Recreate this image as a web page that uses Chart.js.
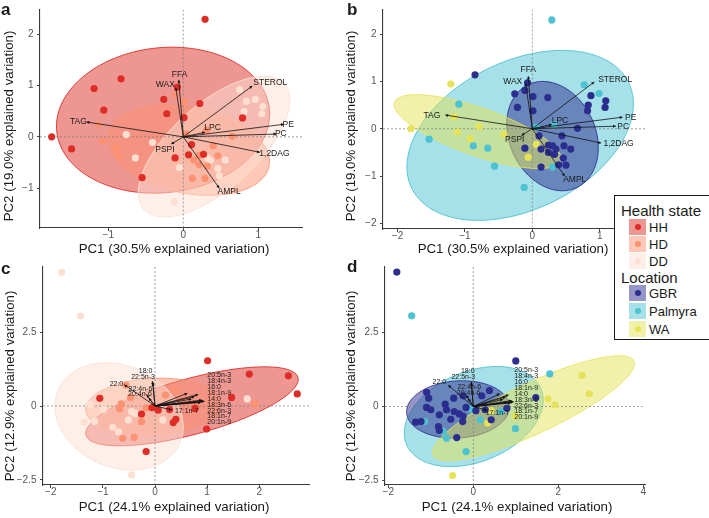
<!DOCTYPE html>
<html><head><meta charset="utf-8">
<script src="https://cdn.jsdelivr.net/npm/chart.js@4.4.1/dist/chart.umd.min.js"></script>
<style>
html,body{margin:0;padding:0;background:#fff}
body{width:709px;height:518px;position:relative;overflow:hidden;font-family:"Liberation Sans",Arial,Helvetica,sans-serif;color:#1a1a1a}
canvas{position:absolute;left:0;top:0}
.t{position:absolute;white-space:nowrap;line-height:1}
.xt{font-size:13.3px;transform:translate(-50%,-50%)}
.yt{font-size:13.3px;transform:translate(-50%,-50%) rotate(-90deg)}
.let{font-size:17px;font-weight:bold;line-height:17px}
#legbox{position:absolute;left:614px;top:195px;width:100px;height:145px;box-sizing:border-box;border:1.3px solid #1a1a1a;background:#fff}
.lgt{font-size:15px;transform:translateY(-50%)}
.lgi{font-size:13px;transform:translateY(-50%)}
.patch{position:absolute;width:17px;height:16px}
.dot{position:absolute;width:6px;height:6px;border-radius:50%;left:5.5px;top:5px}
</style></head>
<body>
<canvas id="pa" width="709" height="518"></canvas>
<canvas id="pb" width="709" height="518"></canvas>
<canvas id="pc" width="709" height="518"></canvas>
<canvas id="pd" width="709" height="518"></canvas>

<div class="t let" style="left:1px;top:1px">a</div>
<div class="t let" style="left:347px;top:1px">b</div>
<div class="t let" style="left:1px;top:260px">c</div>
<div class="t let" style="left:347px;top:258px">d</div>

<div class="t xt" style="left:174px;top:249px">PC1 (30.5% explained variation)</div>
<div class="t xt" style="left:513px;top:249px">PC1 (30.5% explained variation)</div>
<div class="t xt" style="left:174px;top:507px">PC1 (24.1% explained variation)</div>
<div class="t xt" style="left:517px;top:507px">PC1 (24.1% explained variation)</div>
<div class="t yt" style="left:9px;top:126px">PC2 (19.0% explained variation)</div>
<div class="t yt" style="left:351px;top:126px">PC2 (19.0% explained variation)</div>
<div class="t yt" style="left:10px;top:386px">PC2 (12.9% explained variation)</div>
<div class="t yt" style="left:351px;top:386px">PC2 (12.9% explained variation)</div>

<div id="legbox"></div>
<div id="legend"></div>

<script>
const FONT = '"Liberation Sans", Arial, Helvetica, sans-serif';

// ---------- categories ----------
const HEALTH = ['HH', 'HD', 'DD'];
const LOCATION = ['GBR', 'Palmyra', 'WA'];
const HEALTH_COLORS = ['#de2d26', '#fc9272', '#fee0d2'];
const LOCATION_COLORS = ['#2b2d8f', '#4dc2d1', '#e6e35a'];

// ---------- axis ranges and ticks ----------
const A_X_RANGE = [-1.911, 1.583], A_Y_RANGE = [-1.775, 2.481];
const B_X_RANGE = [-2.215, 1.702], B_Y_RANGE = [-2.118, 2.52];
const C_X_RANGE = [-2.15, 2.956],  C_Y_RANGE = [-2.67, 4.70];
const D_X_RANGE = [-2.078, 4.04],  D_Y_RANGE = [-2.65, 4.71];
const A_X_TICKS = [-1, 0, 1],         A_Y_TICKS = [-1, 0, 1, 2];
const B_X_TICKS = [-2, -1, 0, 1],     B_Y_TICKS = [-2, -1, 0, 1, 2];
const C_X_TICKS = [-2, -1, 0, 1, 2],  C_Y_TICKS = [-2.5, 0, 2.5];
const D_X_TICKS = [-2, 0, 2, 4],      D_Y_TICKS = [-2.5, 0, 2.5];

// ---------- panel a: lipid classes by health state (PC1, PC2) ----------
const A_HH = [[0.29,2.29],[-1.755,0.0],[-1.49,-0.235],[-1.19,0.94],[-0.83,1.13],[-1.06,0.52],[-0.08,0.97],[-0.26,0.73],[-0.22,0.45],[0.01,0.375],[0.22,0.65],[0.79,0.37],[0.11,-0.15],[-0.11,-0.41],[0.07,-0.35],[0.27,-0.34],[-0.55,-0.795]];
const A_HD = [[-0.10,0.83],[0.01,0.69],[-1.13,0.24],[-1.08,-0.08],[-0.90,-0.21],[-0.86,-0.37],[0.31,0.13],[0.65,0.01],[0.40,-0.17],[0.46,-0.37],[0.21,-0.36],[0.14,-0.45],[0.21,-0.54],[0.32,-0.57],[0.12,-0.81],[0.29,-0.81],[0.04,0.06]];
const A_DD = [[0.75,0.92],[0.84,0.69],[0.96,0.73],[1.06,0.59],[0.81,0.49],[1.05,0.45],[-0.76,0.045],[-0.64,-0.41],[-0.41,-0.11],[0.32,-0.41],[-0.05,-0.60],[0.46,-0.62],[0.48,-0.76],[0.56,-0.45],[0.36,-0.46],[-0.12,-1.26]];

// ---------- panel b: lipid classes by location ----------
const B_GBR = [[-0.85,1.14],[-0.07,0.97],[-0.11,0.81],[-0.26,0.74],[0.01,0.68],[0.23,0.66],[-0.22,0.45],[0.01,0.38],[0.87,0.70],[0.83,0.50],[0.82,0.38],[1.09,0.59],[1.08,0.45],[0.67,0.01],[0.10,-0.15],[0.44,-0.15],[-0.11,-0.41],[0.13,-0.43],[0.24,-0.345],[0.30,-0.36],[0.35,-0.43],[0.47,-0.36],[0.57,-0.43],[0.24,-0.50],[0.33,-0.54],[0.46,-0.62],[0.39,-0.76],[0.50,-0.77],[0.13,-0.81]];
const B_PAL = [[0.29,2.30],[0.77,0.93],[0.99,0.745],[-1.09,0.52],[-1.53,-0.22],[-0.875,-0.36],[-0.66,-0.41],[-0.56,-0.79],[-0.12,-1.24],[0.30,-0.81],[0.06,0.03],[0.32,0.09]];
const B_WA = [[-1.21,0.945],[-1.80,0.0],[-1.16,0.255],[-1.11,-0.07],[-0.79,0.05],[-0.92,-0.21],[-0.42,-0.12],[0.06,-0.33],[-0.06,-0.60]];

// ---------- panel c: fatty acids by health state ----------
const C_HH = [[1.01,1.53],[1.81,1.08],[2.56,1.02],[2.73,0.41],[1.47,0.29],[0.77,-0.08],[0.99,-0.78],[0.40,-0.45],[0.35,-0.56],[-0.06,-0.06],[0.06,-0.14],[-0.26,-0.27],[-1.06,0.26],[-0.17,-1.54],[0.28,-0.12]];
const C_HD = [[-0.56,0.71],[0.20,0.37],[1.92,0.07],[-0.65,0.07],[-0.68,-0.10],[-0.47,0.29],[-0.17,-0.06],[-0.26,-0.53],[-0.62,-1.09],[-0.40,-1.06],[0.38,0.55]];
const C_DD = [[-1.79,4.52],[-1.43,3.04],[1.77,0.24],[-0.45,-2.33],[-0.99,-0.11],[-1.16,-0.52],[-1.36,-0.54],[-0.45,-0.19],[-0.38,-0.25],[-0.51,-0.47],[-0.81,-0.72],[-0.70,-0.87],[0.15,-0.47],[-1.25,0.05]];

// ---------- panel d: fatty acids by location ----------
const D_GBR = [[-1.80,4.54],[1.00,1.54],[1.47,0.30],[0.38,0.54],[0.20,0.36],[-0.24,0.36],[-1.10,0.48],[-1.05,0.28],[-1.10,-0.03],[-1.00,-0.11],[-0.66,0.08],[-0.46,0.28],[-0.63,-0.11],[-0.45,-0.17],[-0.33,-0.25],[-0.24,-0.32],[-0.17,-0.03],[-0.80,-0.28],[-1.36,-0.53],[-1.23,-0.51],[-0.53,-0.43],[-0.25,-0.51],[-0.82,-0.68],[-0.80,-0.81],[-0.39,-1.05],[0.06,-0.14],[0.28,-0.11],[0.42,-0.45],[0.79,-0.06]];
const D_PAL = [[-1.45,3.06],[1.80,1.10],[0.99,-0.75],[-0.17,-1.52],[0.16,-0.45],[-0.05,-0.09],[-0.63,-1.07],[-0.71,-0.84],[-1.14,-0.51],[0.65,-0.17]];
const D_WA = [[-0.49,-2.33],[2.56,1.05],[2.73,0.43],[1.76,0.26],[1.92,0.06],[0.34,-0.56],[0.42,-0.14],[0.99,-0.32]];

// ---------- confidence ellipses: [centreX, centreY, semiAxisA, semiAxisB, angleDeg] ----------
const A_ELL_HH = [-0.27, 0.325, 1.48, 1.36, 45];
const A_ELL_HD = [0.07, -0.26, 1.131, 0.812, -25.4];
const A_ELL_DD = [0.41, -0.19, 1.567, 0.666, 57.6];
const B_ELL_GBR = [0.30, -0.155, 1.168, 0.656, -79.5];
const B_ELL_PAL = [-0.18, -0.14, 2.039, 1.374, 50.1];
const B_ELL_WA = [-0.81, -0.06, 1.386, 0.474, -28.4];
const C_ELL_HH = [0.71, -0.01, 2.275, 0.875, 28.7];
const C_ELL_HD = [-0.03, -0.02, 1.31, 0.95, 9.3];
const C_ELL_DD = [-0.69, -0.35, 1.84, 1.19, -76.9];
const D_ELL_GBR = [-0.36, -0.10, 1.217, 0.961, 10];
const D_ELL_PAL = [0.01, -0.34, 1.918, 1.36, 47.9];
const D_ELL_WA = [1.415, -0.055, 2.857, 0.778, 35.3];

// ---------- loadings (arrows) ----------
const LIPID_VARS = ['FFA','WAX','STEROL','PE','PC','1,2DAG','AMPL','LPC','PSPI','TAG'];
const LIPID_TIP_X = [-0.06,-0.10,0.92,1.34,1.24,1.02,0.48,0.29,-0.16,-1.29];
const LIPID_TIP_Y = [1.11,0.96,0.99,0.245,0.055,-0.30,-1.0,0.09,-0.14,0.29];
const A_LAB_X = [-0.05,-0.24,1.16,1.40,1.30,1.215,0.61,0.39,-0.245,-1.40];
const A_LAB_Y = [1.21,1.01,1.065,0.245,0.055,-0.325,-1.065,0.175,-0.24,0.29];
const B_LAB_X = [-0.06,-0.29,1.23,1.46,1.35,1.28,0.63,0.41,-0.26,-1.49];
const B_LAB_Y = [1.24,0.99,1.04,0.24,0.05,-0.31,-1.07,0.17,-0.24,0.28];
const LIPID_ALIGN = LIPID_VARS.map(() => 'center');

const FA_VARS = ['18:0','22:5n-3','22:0','22:4n-6','20:4n-6','20:5n-3','18:4n-3','16:0','18:1n-9','14:0','18:3n-6','22:6n-3','18:1n-7','20:1n-9','17:1n-7'];
const FA_TIP_X = [-0.05,-0.04,-0.59,-0.16,-0.12,0.62,0.83,0.76,0.70,0.90,0.93,0.80,0.88,0.95,0.32];
const FA_TIP_Y = [0.84,0.78,0.72,0.38,0.27,0.43,0.39,0.32,0.24,0.20,0.17,0.14,0.12,0.16,-0.13];
const C_LAB_X = [-0.18,-0.23,-0.74,-0.28,-0.29,1.005,1.005,1.005,1.005,1.005,1.005,1.005,1.005,1.005,0.61];
const C_LAB_Y = [1.19,0.97,0.73,0.56,0.39,1.05,0.86,0.64,0.43,0.225,0.03,-0.16,-0.34,-0.53,-0.17];
const D_LAB_X = [-0.13,-0.235,-0.80,-0.095,-0.11,0.965,0.965,0.965,0.965,0.965,0.965,0.965,0.965,0.965,0.57];
const D_LAB_Y = [1.20,0.98,0.81,0.64,0.47,1.22,1.04,0.81,0.62,0.42,0.225,0.02,-0.17,-0.37,-0.225];
const FA_ALIGN = ['center','center','center','center','center','left','left','left','left','left','left','left','left','left','center'];

// ---------- helpers ----------
function rgba(hex, a) {
  const n = parseInt(hex.slice(1), 16);
  return `rgba(${(n>>16)&255},${(n>>8)&255},${n&255},${a})`;
}
function fmt(v) { return (v < 0 ? '\u2212' : '') + Math.abs(v); }

function biplot(cfg) {
  return {
    id: 'biplot_' + cfg.id,
    beforeDatasetsDraw(chart) {
      const {ctx, chartArea: ar, scales: {x, y}} = chart;
      ctx.save();
      ctx.beginPath(); ctx.rect(ar.left, ar.top, ar.right - ar.left, ar.bottom - ar.top); ctx.clip();
      cfg.ellipses.forEach(([e, col]) => {
        const [cx, cy, a, b, deg] = e, th = deg * Math.PI / 180;
        ctx.beginPath();
        for (let i = 0; i <= 180; i++) {
          const t = i / 180 * 2 * Math.PI, dx = a * Math.cos(t), dy = b * Math.sin(t);
          const px = x.getPixelForValue(cx + dx * Math.cos(th) - dy * Math.sin(th));
          const py = y.getPixelForValue(cy + dx * Math.sin(th) + dy * Math.cos(th));
          i ? ctx.lineTo(px, py) : ctx.moveTo(px, py);
        }
        ctx.closePath();
        ctx.fillStyle = rgba(col, 0.5); ctx.fill();
        ctx.strokeStyle = col; ctx.lineWidth = 0.9; ctx.stroke();
      });
      const x0 = x.getPixelForValue(0), y0 = y.getPixelForValue(0);
      ctx.setLineDash([2, 2]); ctx.strokeStyle = '#7a7a7a'; ctx.lineWidth = 0.7;
      ctx.beginPath();
      ctx.moveTo(x0, ar.top); ctx.lineTo(x0, ar.bottom);
      ctx.moveTo(ar.left, y0); ctx.lineTo(ar.right, y0);
      ctx.stroke();
      ctx.restore();
    },
    afterDatasetsDraw(chart) {
      const {ctx, scales: {x, y}} = chart;
      const ox = x.getPixelForValue(0), oy = y.getPixelForValue(0);
      ctx.save();
      ctx.strokeStyle = '#111'; ctx.fillStyle = '#111'; ctx.lineWidth = 0.8;
      cfg.vars.forEach((v, i) => {
        const tx = x.getPixelForValue(cfg.tipX[i]), ty = y.getPixelForValue(cfg.tipY[i]);
        ctx.beginPath(); ctx.moveTo(ox, oy); ctx.lineTo(tx, ty); ctx.stroke();
        const ang = Math.atan2(ty - oy, tx - ox), h = 3.2;
        ctx.beginPath();
        ctx.moveTo(tx, ty);
        ctx.lineTo(tx - h * Math.cos(ang - 0.5), ty - h * Math.sin(ang - 0.5));
        ctx.lineTo(tx - h * Math.cos(ang + 0.5), ty - h * Math.sin(ang + 0.5));
        ctx.closePath(); ctx.fill();
      });
      ctx.font = cfg.labFont + 'px ' + FONT;
      ctx.textBaseline = 'middle';
      ctx.fillStyle = '#1a1a1a';
      cfg.vars.forEach((v, i) => {
        ctx.textAlign = cfg.align[i];
        ctx.fillText(v, x.getPixelForValue(cfg.labX[i]), y.getPixelForValue(cfg.labY[i]));
      });
      ctx.restore();
    }
  };
}

function axis(range, ticks, dir) {
  const isX = dir === 'x';
  return {
    type: 'linear', position: isX ? 'bottom' : 'left', min: range[0], max: range[1],
    afterBuildTicks: s => { s.ticks = ticks.map(v => ({value: v})); },
    afterFit: s => { if (isX) s.height = 20; else s.width = 30; },
    grid: {display: true, drawOnChartArea: false, drawTicks: true, tickLength: 3, tickColor: '#444', color: '#444', lineWidth: 1},
    border: {display: true, color: '#3a3a3a', width: 1.1},
    ticks: {autoSkip: false, maxRotation: 0, padding: isX ? -2 : 3.5, color: '#555',
            font: {family: FONT, size: 10}, callback: v => fmt(v)}
  };
}

function makeChart(cfg) {
  const [L, T, R, B] = cfg.area;
  const datasets = cfg.groups.map((pts, i) => ({
    label: cfg.names[i], data: pts.map(([px, py]) => ({x: px, y: py})),
    backgroundColor: cfg.colors[i], borderColor: cfg.colors[i],
    pointRadius: 3.6, pointHoverRadius: 3.6, pointBorderWidth: 0
  }));
  return new Chart(document.getElementById(cfg.id), {
    type: 'scatter',
    data: {datasets},
    options: {
      responsive: false, animation: false, devicePixelRatio: 1, events: [],
      layout: {padding: {left: L - 30, top: T, right: 709 - R, bottom: 518 - B - 20}},
      plugins: {legend: {display: false}, tooltip: {enabled: false}},
      scales: {x: axis(cfg.xr, cfg.xt, 'x'), y: axis(cfg.yr, cfg.yt, 'y')}
    },
    plugins: [biplot(cfg)]
  });
}

makeChart({id: 'pa', area: [40, 5, 302, 228], xr: A_X_RANGE, yr: A_Y_RANGE, xt: A_X_TICKS, yt: A_Y_TICKS,
  names: HEALTH, colors: HEALTH_COLORS, groups: [A_HH, A_HD, A_DD],
  ellipses: [[A_ELL_HH, HEALTH_COLORS[0]], [A_ELL_HD, HEALTH_COLORS[1]], [A_ELL_DD, HEALTH_COLORS[2]]],
  vars: LIPID_VARS, tipX: LIPID_TIP_X, tipY: LIPID_TIP_Y, labX: A_LAB_X, labY: A_LAB_Y, align: LIPID_ALIGN, labFont: 8.5});
makeChart({id: 'pb', area: [383, 5, 647, 229], xr: B_X_RANGE, yr: B_Y_RANGE, xt: B_X_TICKS, yt: B_Y_TICKS,
  names: LOCATION, colors: LOCATION_COLORS, groups: [B_GBR, B_PAL, B_WA],
  ellipses: [[B_ELL_PAL, LOCATION_COLORS[1]], [B_ELL_GBR, LOCATION_COLORS[0]], [B_ELL_WA, LOCATION_COLORS[2]]],
  vars: LIPID_VARS, tipX: LIPID_TIP_X, tipY: LIPID_TIP_Y, labX: B_LAB_X, labY: B_LAB_Y, align: LIPID_ALIGN, labFont: 8.5});
makeChart({id: 'pc', area: [43, 267, 309, 485], xr: C_X_RANGE, yr: C_Y_RANGE, xt: C_X_TICKS, yt: C_Y_TICKS,
  names: HEALTH, colors: HEALTH_COLORS, groups: [C_HH, C_HD, C_DD],
  ellipses: [[C_ELL_HH, HEALTH_COLORS[0]], [C_ELL_HD, HEALTH_COLORS[1]], [C_ELL_DD, HEALTH_COLORS[2]]],
  vars: FA_VARS, tipX: FA_TIP_X, tipY: FA_TIP_Y, labX: C_LAB_X, labY: C_LAB_Y, align: FA_ALIGN, labFont: 7});
makeChart({id: 'pd', area: [385, 267, 645, 485], xr: D_X_RANGE, yr: D_Y_RANGE, xt: D_X_TICKS, yt: D_Y_TICKS,
  names: LOCATION, colors: LOCATION_COLORS, groups: [D_GBR, D_PAL, D_WA],
  ellipses: [[D_ELL_PAL, LOCATION_COLORS[1]], [D_ELL_GBR, LOCATION_COLORS[0]], [D_ELL_WA, LOCATION_COLORS[2]]],
  vars: FA_VARS, tipX: FA_TIP_X, tipY: FA_TIP_Y, labX: D_LAB_X, labY: D_LAB_Y, align: FA_ALIGN, labFont: 7});

// ---------- legend (HTML, built from the category arrays) ----------
(function () {
  const lg = document.getElementById('legend');
  let html = '';
  const row = (txt, cy, col) =>
    `<div class="patch" style="left:629px;top:${cy - 8}px;background:${rgba(col, 0.5)}"><div class="dot" style="background:${col}"></div></div>` +
    `<div class="t lgi" style="left:649px;top:${cy}px">${txt}</div>`;
  html += `<div class="t lgt" style="left:621px;top:210px">Health state</div>`;
  const hy = [227, 244, 261];
  HEALTH.forEach((h, i) => html += row(h, hy[i], HEALTH_COLORS[i]));
  html += `<div class="t lgt" style="left:621px;top:277px">Location</div>`;
  const ly = [293, 311, 329];
  LOCATION.forEach((l, i) => html += row(l, ly[i], LOCATION_COLORS[i]));
  lg.innerHTML = html;
})();
</script>
</body></html>
